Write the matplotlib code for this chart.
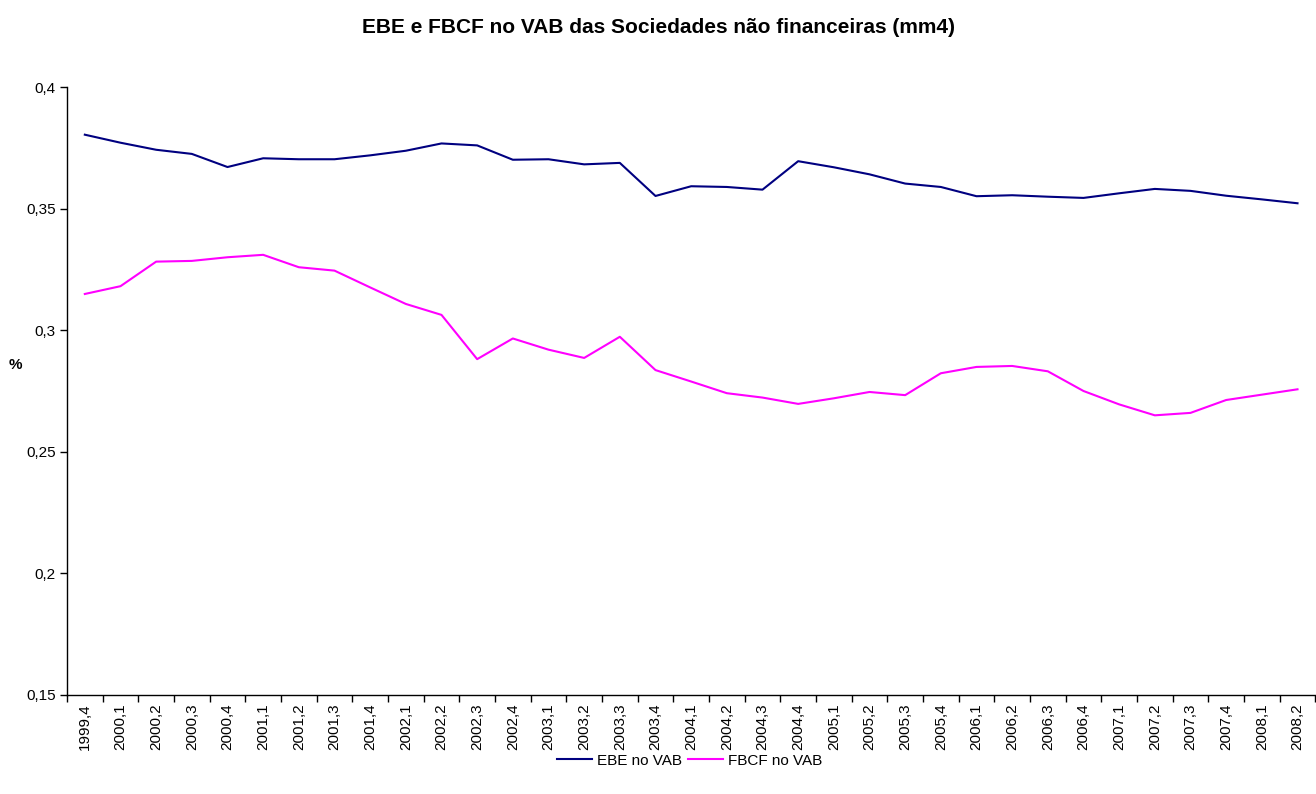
import matplotlib

matplotlib.use("Agg")
import matplotlib.pyplot as plt
import numpy as np

plt.rcParams["font.family"] = ["Liberation Sans", "DejaVu Sans"]

quarters = [
    "1999,4",
    "2000,1", "2000,2", "2000,3", "2000,4",
    "2001,1", "2001,2", "2001,3", "2001,4",
    "2002,1", "2002,2", "2002,3", "2002,4",
    "2003,1", "2003,2", "2003,3", "2003,4",
    "2004,1", "2004,2", "2004,3", "2004,4",
    "2005,1", "2005,2", "2005,3", "2005,4",
    "2006,1", "2006,2", "2006,3", "2006,4",
    "2007,1", "2007,2", "2007,3", "2007,4",
    "2008,1", "2008,2",
]

ebe_vab = [
    0.3804, 0.3771, 0.3742, 0.3725, 0.3671, 0.3707, 0.3703, 0.3703, 0.3719,
    0.3738, 0.3768, 0.3760, 0.3701, 0.3703, 0.3682, 0.3688, 0.3552, 0.3592,
    0.3589, 0.3578, 0.3695, 0.3670, 0.3641, 0.3603, 0.3589, 0.3551, 0.3555,
    0.3549, 0.3544, 0.3563, 0.3581, 0.3573, 0.3553, 0.3538, 0.3522,
]

fbcf_vab = [
    0.3149, 0.3181, 0.3282, 0.3285, 0.3300, 0.3310, 0.3259, 0.3245, 0.3176,
    0.3108, 0.3063, 0.2881, 0.2966, 0.2920, 0.2886, 0.2973, 0.2836, 0.2789,
    0.2741, 0.2723, 0.2697, 0.2720, 0.2746, 0.2733, 0.2823, 0.2849, 0.2853,
    0.2831, 0.2750, 0.2695, 0.2650, 0.2660, 0.2713, 0.2735, 0.2757,
]

y_ticks = [0.15, 0.2, 0.25, 0.3, 0.35, 0.4]

fig = plt.figure(figsize=(13.16, 7.94), dpi=100)
ax = fig.add_axes([0.0509, 0.1247, 0.9486, 0.7657])

x = np.arange(len(quarters))
ax.plot(x, ebe_vab, color="#000080", linewidth=1.5, label="EBE no VAB")
ax.plot(x, fbcf_vab, color="#FF00FF", linewidth=1.5, label="FBCF no VAB")

ax.set_xlim(-0.5, len(quarters) - 0.5)
ax.set_ylim(0.15, 0.4)

# category boundaries get the tick marks, labels sit in the middle
ax.set_xticks(np.arange(len(quarters) + 1) - 0.5)
ax.set_xticklabels([])
ax.set_xticks(x, minor=True)
ax.set_xticklabels(quarters, minor=True, rotation=90, fontsize=11)
ax.tick_params(axis="x", which="major", length=5, direction="out", width=1)
ax.tick_params(axis="x", which="minor", length=0, pad=6)

ax.set_yticks(y_ticks)
ax.set_yticklabels([f"{v:g}".replace(".", ",") for v in y_ticks], fontsize=11)
ax.tick_params(axis="y", length=5, direction="out", width=1, pad=3)

for side in ("top", "right"):
    ax.spines[side].set_visible(False)
for side in ("left", "bottom"):
    ax.spines[side].set_linewidth(1)
    ax.spines[side].set_color("black")

ax.set_ylabel("%", rotation=0, fontsize=11, fontweight="bold")
ax.yaxis.set_label_coords(-0.041, 0.532)

fig.suptitle("EBE e FBCF no VAB das Sociedades não financeiras (mm4)",
             x=0.5, y=0.977, fontsize=15, fontweight="bold")

fig.legend(loc="center", bbox_to_anchor=(0.524, 0.042), ncol=2, frameon=False,
           fontsize=11, handlelength=2.3, handletextpad=0.3, columnspacing=0.4)

fig.savefig("out.png", dpi=100, facecolor="white")
